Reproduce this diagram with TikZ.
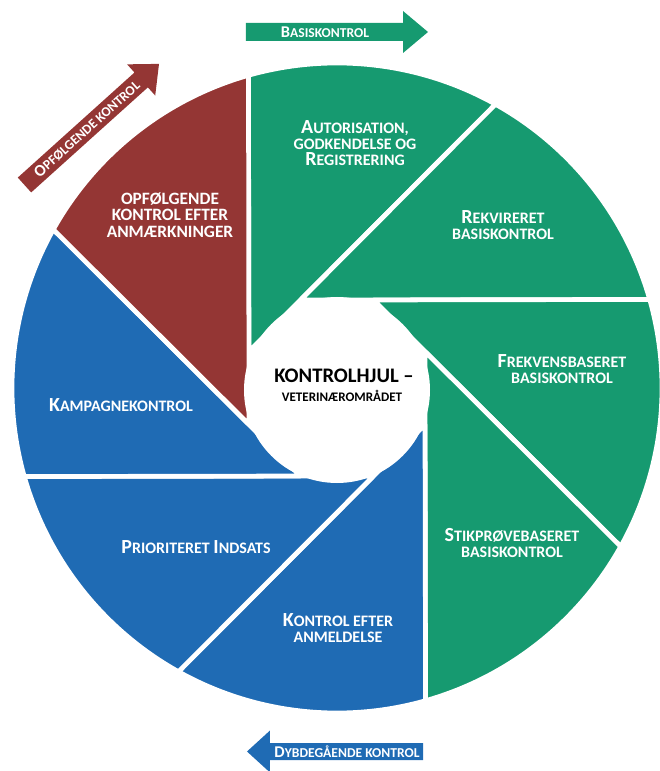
\documentclass[tikz,border=0pt]{standalone}
\usepackage{fontspec}
\setmainfont{Carlito}

\definecolor{basisgreen}{RGB}{22,154,112}
\definecolor{dybdeblue}{RGB}{31,107,180}
\definecolor{opfbrown}{RGB}{148,54,52}

% first letter of a small-caps word
\newcommand{\Bg}[2][15]{{\fontsize{#1}{#1}\selectfont #2}}

\tikzset{
	blade/.style={draw=white, line width=3.5pt, line join=round},
	lbl/.style={text=white, align=center, inner sep=0pt, font=\fontsize{12}{12}\selectfont\bfseries},
	arrlbl/.style={text=white, inner sep=0pt, font=\fontsize{10.2}{11}\selectfont\bfseries},
}

\begin{document}
\begin{tikzpicture}[x=0.75pt, y=0.75pt]
	\useasboundingbox (-337,-383) rectangle (323,388);
	% wheel blades
	\filldraw[blade, fill=basisgreen] (157.5:95.25) -- (105.81:325) arc[start angle=105.81, end angle=60.81, radius=325] -- cycle;
	\filldraw[blade, fill=basisgreen] (112.5:95.25) -- (60.81:325) arc[start angle=60.81, end angle=15.81, radius=325] -- cycle;
	\filldraw[blade, fill=basisgreen] (67.5:95.25) -- (15.81:325) arc[start angle=15.81, end angle=-29.19, radius=325] -- cycle;
	\filldraw[blade, fill=basisgreen] (22.5:95.25) -- (-29.19:325) arc[start angle=-29.19, end angle=-74.19, radius=325] -- cycle;
	\filldraw[blade, fill=dybdeblue] (-22.5:95.25) -- (-74.19:325) arc[start angle=-74.19, end angle=-119.19, radius=325] -- cycle;
	\filldraw[blade, fill=dybdeblue] (-67.5:95.25) -- (-119.19:325) arc[start angle=-119.19, end angle=-164.19, radius=325] -- cycle;
	\filldraw[blade, fill=dybdeblue] (-112.5:95.25) -- (-164.19:325) arc[start angle=-164.19, end angle=-209.19, radius=325] -- cycle;
	\filldraw[blade, fill=opfbrown] (-157.5:95.25) -- (150.81:325) arc[start angle=150.81, end angle=105.81, radius=325] -- cycle;
	\fill[white] (0,-2) circle[radius=93];

	% labels
	\draw (18,245) node[lbl] (AUT) {\Bg{A}UTORISATION,\\GODKENDELSE OG\\\Bg{R}EGISTRERING};
	\draw (166,163) node[lbl] (REK) {\Bg{R}EKVIRERET\\BASISKONTROL};
	\draw (225,19) node[lbl] (FRE) {\Bg{F}REKVENSBASERET\\BASISKONTROL};
	\draw (175,-155) node[lbl] (STI) {\Bg{S}TIKPRØVEBASERET\\BASISKONTROL};
	\draw (1,-240) node[lbl] (ANM) {\Bg{K}ONTROL EFTER\\ANMELDELSE};
	\draw (-141,-159) node[lbl] (PRI) {\Bg{P}RIORITERET \Bg{I}NDSATS};
	\draw (-216,-17) node[lbl] (KAM) {\Bg{K}AMPAGNEKONTROL};
	\draw (-167,173) node[lbl, font=\fontsize{13}{12.5}\selectfont\bfseries] (OPF) {OPFØLGENDE\\KONTROL EFTER\\ANMÆRKNINGER};
	\draw (7,12) node[inner sep=0pt, font=\fontsize{15.5}{16}\selectfont\bfseries] (HJUL) {KONTROLHJUL –};
	\draw (5,-8) node[inner sep=0pt, font=\fontsize{9.8}{10}\selectfont\bfseries] (VET) {VETERINÆROMRÅDET};

	% arrows
	\fill[basisgreen] (-91,347) -- (66,347) -- (66,335) -- (91,356) -- (66,377) -- (66,365) -- (-91,365) -- cycle;
	\draw (-12,356) node[arrlbl] (BAS) {\Bg[12.3]{B}ASISKONTROL};
	\fill[dybdeblue] (86,-355) -- (-67,-355) -- (-67,-342.5) -- (-90,-363.5) -- (-67,-384.5) -- (-67,-372) -- (86,-372) -- cycle;
	\draw (10,-363.5) node[arrlbl] (DYB) {\Bg[12.3]{D}YBDEGÅENDE KONTROL};
	\begin{scope}[shift={(-312.5,203)}, rotate=42]
		\fill[opfbrown] (0,-10) -- (157,-10) -- (157,-21) -- (181,0) -- (157,21) -- (157,10) -- (0,10) -- cycle;
		\draw (84,0) node[arrlbl, rotate=42] (OPK) {\Bg[12.3]{O}PFØLGENDE KONTROL};
	\end{scope}
\end{tikzpicture}
\end{document}
